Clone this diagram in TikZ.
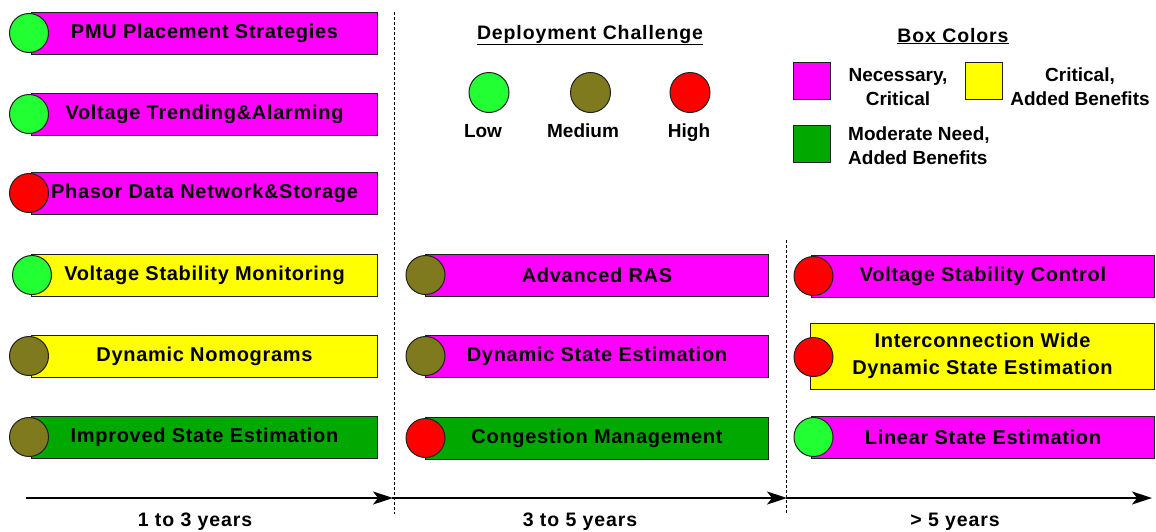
\documentclass[tikz,border=0pt]{standalone}
\usepackage{fontspec}
\setmainfont{Liberation Sans}
\usetikzlibrary{arrows.meta}
\definecolor{cmag}{HTML}{FF00FF}
\definecolor{cyel}{HTML}{FFFF00}
\definecolor{cgrn}{HTML}{00A800}
\definecolor{dlow}{HTML}{22FF33}
\definecolor{dmed}{HTML}{7F7A1E}
\definecolor{dhigh}{HTML}{FF0000}
\definecolor{edge}{HTML}{202020}
\tikzset{
  bar/.style={draw=edge, line width=1pt, anchor=west, inner sep=0pt,
    minimum width=346pt, minimum height=42pt, align=center,
    font=\fontsize{20}{27}\selectfont\bfseries\addfontfeature{LetterSpace=3.5}},
  dot/.style={circle, draw=edge, line width=1pt, minimum size=39pt, inner sep=0pt},
  sq/.style={draw=edge, line width=1.2pt, minimum width=37pt, minimum height=37pt, inner sep=0pt},
  lgd/.style={font=\fontsize{19}{24}\selectfont\bfseries, inner sep=0pt},
  ttl/.style={font=\fontsize{19.5}{24}\selectfont\bfseries\addfontfeature{LetterSpace=4.5}, inner sep=0pt},
  sep/.style={draw=black, line width=0.8pt, dash pattern=on 3pt off 2pt},
  axis/.style={draw=black, line width=1.5pt, -{Stealth[length=20pt,width=13pt,inset=5pt]}},
}
\begin{document}
\begin{tikzpicture}[x=1pt,y=-1pt]
\useasboundingbox (0,0) rectangle (1156,531);
% column 1
\node[bar, fill=cmag] (b1) at (31,33) {PMU Placement Strategies};
\node[dot, fill=dlow] (c1) at (29,33) {};
\node[bar, fill=cmag] (b2) at (31,114) {Voltage Trending\&Alarming};
\node[dot, fill=dlow] (c2) at (29,114) {};
\node[bar, fill=cmag] (b3) at (31,193) {Phasor Data Network\&Storage};
\node[dot, fill=dhigh] (c3) at (29,193) {};
\node[bar, fill=cyel] (b4) at (31,275) {Voltage Stability Monitoring};
\node[dot, fill=dlow] (c4) at (32,275) {};
\node[bar, fill=cyel] (b5) at (31,356) {Dynamic Nomograms};
\node[dot, fill=dmed] (c5) at (29,356) {};
\node[bar, fill=cgrn] (b6) at (31,437) {Improved State Estimation};
\node[dot, fill=dmed] (c6) at (29,437) {};
% column 2
\node[bar, fill=cmag, minimum width=343pt] (d1) at (425,275) {Advanced RAS};
\node[dot, fill=dmed] (e1) at (425.5,275) {};
\node[bar, fill=cmag, minimum width=343pt] (d2) at (425,356) {Dynamic State Estimation};
\node[dot, fill=dmed] (e2) at (425.5,356) {};
\node[bar, fill=cgrn, minimum width=343pt] (d3) at (425,438) {Congestion Management};
\node[dot, fill=dhigh] (e3) at (425.5,438) {};
% column 3
\node[bar, fill=cmag, minimum width=343pt] (f1) at (811,276) {Voltage Stability Control};
\node[dot, fill=dhigh] (g1) at (813.5,276) {};
\node[bar, fill=cyel, minimum width=344pt, minimum height=66pt] (f2) at (810,356) {Interconnection Wide\\Dynamic State Estimation};
\node[dot, fill=dhigh] (g2) at (813.5,357) {};
\node[bar, fill=cmag, minimum width=343pt] (f3) at (811,437) {Linear State Estimation};
\node[dot, fill=dlow] (g3) at (813.5,437) {};
% legend: deployment challenge
\node[ttl, anchor=base] (t1) at (590,39) {\underline{Deployment Challenge}};
\node[dot, fill=dlow, minimum size=40pt] (l1) at (489,92.5) {};
\node[dot, fill=dmed, minimum size=40pt] (l2) at (590.5,92.5) {};
\node[dot, fill=dhigh, minimum size=40pt] (l3) at (690,92.5) {};
\node[lgd, anchor=base] (n1) at (483,137) {Low};
\node[lgd, anchor=base] (n2) at (583,137) {Medium};
\node[lgd, anchor=base] (n3) at (689,137) {High};
% legend: box colors
\node[ttl, anchor=base] (t2) at (953,42) {\underline{Box Colors}};
\node[sq, fill=cmag] (s1) at (812,81) {};
\node[sq, fill=cyel] (s2) at (984,81) {};
\node[sq, fill=cgrn] (s3) at (812,144) {};
\node[lgd, align=center] (m1) at (898,87) {Necessary,\\Critical};
\node[lgd, align=center] (m2) at (1080,87) {Critical,\\Added Benefits};
\node[lgd, align=left, anchor=west] (m3) at (848,146) {Moderate Need,\\Added Benefits};
% separators
\coordinate (v1t) at (394,12);
\coordinate (v1b) at (394,514);
\coordinate (v2t) at (786,240);
\coordinate (v2b) at (786,514);
\draw[sep] (v1t) -- (v1b);
\draw[sep] (v2t) -- (v2b);
% time axis
\coordinate (a0) at (26,498);
\coordinate (a1) at (393,498);
\coordinate (a2) at (787,498);
\coordinate (a3) at (1152,498);
\coordinate (a1s) at (392,498);
\coordinate (a2s) at (786,498);
\draw[axis] (a0) -- (a1);
\draw[axis] (a1s) -- (a2);
\draw[axis] (a2s) -- (a3);
\node[ttl, anchor=base] (y1) at (195,526) {1 to 3 years};
\node[ttl, anchor=base] (y2) at (580,526) {3 to 5 years};
\node[ttl, anchor=base] (y3) at (955,526) {> 5 years};
\end{tikzpicture}
\end{document}
